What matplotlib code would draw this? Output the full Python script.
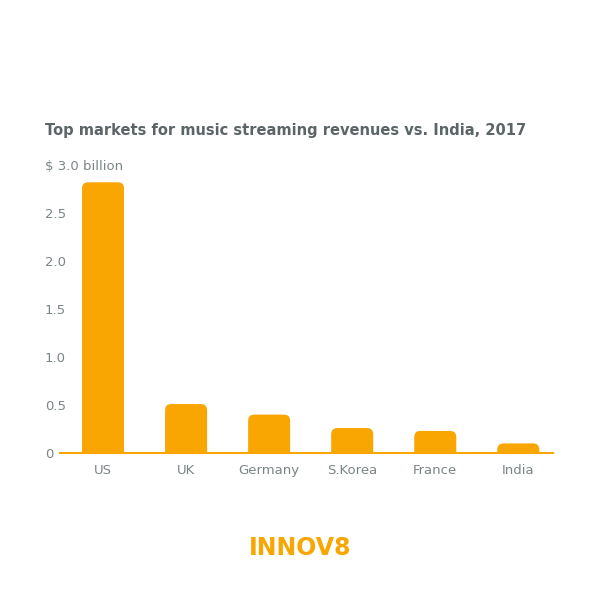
import matplotlib
matplotlib.use("Agg")
import matplotlib.pyplot as plt
from matplotlib.patches import FancyBboxPatch

categories = ["US", "UK", "Germany", "S.Korea", "France", "India"]
revenues = [2.82, 0.51, 0.40, 0.26, 0.23, 0.10]
yticks = [0, 0.5, 1.0, 1.5, 2.0, 2.5, 3.0]
ytick_labels = ["0", "0.5", "1.0", "1.5", "2.0", "2.5", "$ 3.0 billion"]
title = "Top markets for music streaming revenues vs. India, 2017"

ORANGE = "#F9A602"
GRAY = "#7b8587"
TITLE_GRAY = "#5b6567"

plt.rcParams['font.family'] = ['DejaVu Sans']
fig = plt.figure(figsize=(6, 6), dpi=100)
fig.patch.set_facecolor("white")
ax = fig.add_axes([0.1, 0.245, 0.822, 0.48])

x = list(range(len(categories)))
bars = ax.bar(x, revenues, width=0.506, color=ORANGE)
ax.set_xlim(-0.518, 5.42)
ax.set_ylim(0, 3.0)

# replace bars by rounded-top versions
for b in bars:
    b.set_visible(False)
    bx, bw, bh = b.get_x(), b.get_width(), b.get_height()
    r = 0.075
    patch = FancyBboxPatch((bx, -0.2), bw, bh + 0.2,
                           boxstyle=f"round,pad=0,rounding_size={r}",
                           mutation_aspect=0.865,
                           facecolor=ORANGE, edgecolor="none", clip_on=True)
    ax.add_patch(patch)

for s in ["top", "right", "left"]:
    ax.spines[s].set_visible(False)
ax.spines["bottom"].set_color(ORANGE)
ax.spines["bottom"].set_linewidth(1.5)
ax.spines["bottom"].set_zorder(5)

ax.set_xticks(x)
ax.set_xticklabels(categories, color=GRAY, fontsize=9.5)
ax.set_yticks(yticks)
ax.set_yticklabels(ytick_labels, color=GRAY, fontsize=9.5, ha="left")
ax.tick_params(axis="y", length=0, pad=11)
ax.tick_params(axis="x", length=0, pad=8)

fig.text(0.075, 1 - 130 / 600, title, fontsize=10.5, fontweight="bold",
         color=TITLE_GRAY, va="center", ha="left")

fig.text(0.5, 1 - 548 / 600, "INNOV8", fontsize=17, fontweight="bold",
         color=ORANGE, ha="center", va="center")

fig.savefig("out.png", dpi=100, facecolor="white")
